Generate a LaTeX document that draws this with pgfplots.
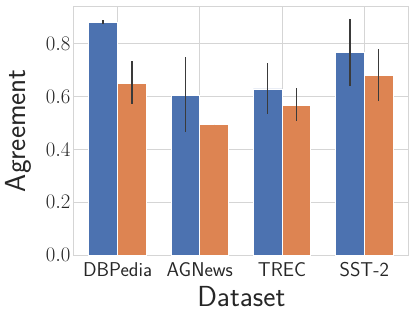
\documentclass[border=0pt]{standalone}
\usepackage{fontspec}
\usepackage{pgfplots}
\usepackage{pgfplotstable}
\pgfplotsset{compat=1.18}

\definecolor{sbblue}{HTML}{4C72B0}
\definecolor{sborange}{HTML}{DD8452}
\definecolor{gridgray}{HTML}{D5D5D5}
\definecolor{txt}{HTML}{262626}
\definecolor{errc}{HTML}{3A3A3A}

% x  y  err+  err-
\pgfplotstableread{
x     y      ep     em
0     0.878  0.010  0.006
1     0.605  0.142  0.139
2     0.628  0.097  0.094
3     0.765  0.127  0.126
}\blue

\pgfplotstableread{
x     y      ep     em
0     0.650  0.082  0.078
1     0.494  0.000  0.000
2     0.567  0.063  0.059
3     0.679  0.099  0.097
}\orange

\begin{document}
\begin{tikzpicture}
\useasboundingbox (-74pt,-67.7pt) rectangle (341pt,255.3pt);
\begin{axis}[at={(0,0)}, anchor=south west, scale only axis,
  width=334.7pt, height=249.3pt,
  xmin=-0.53, xmax=3.54, ymin=0, ymax=0.941,
  xtick={0,1,2,3}, xticklabels={DBPedia,AGNews,TREC,SST-2},
  ytick={0,0.2,0.4,0.6,0.8},
  yticklabel style={/pgf/number format/fixed, /pgf/number format/fixed zerofill,
    /pgf/number format/precision=1, font=\fontsize{20}{24}\selectfont},
  major tick length=0pt,
  grid=major, grid style={gridgray, line width=1pt},
  axis line style={gridgray, line width=1pt},
  tick label style={txt},
  xticklabel style={font=\sffamily\fontsize{20}{24}\selectfont, anchor=base, yshift=-21pt},
  xlabel={Dataset}, ylabel={Agreement},
  label style={txt, font=\sffamily\fontsize{29}{34}\selectfont},
  xlabel style={at={(axis description cs:0.5,0)}, anchor=base, yshift=-51.4pt},
  ylabel style={at={(axis description cs:-0.167,0.5)}, anchor=center},
  ybar, bar width=0.35,
  error bars/error bar style={errc, line width=1.6pt},
  error bars/error mark=none]
\addplot[fill=sbblue, draw=white, line width=0.8pt, bar shift=-0.175,
  error bars/.cd, y dir=both, y explicit]
  table[x=x, y=y, y error plus=ep, y error minus=em]{\blue};
\addplot[fill=sborange, draw=white, line width=0.8pt, bar shift=0.175,
  error bars/.cd, y dir=both, y explicit]
  table[x=x, y=y, y error plus=ep, y error minus=em]{\orange};
\end{axis}
\end{tikzpicture}
\end{document}
